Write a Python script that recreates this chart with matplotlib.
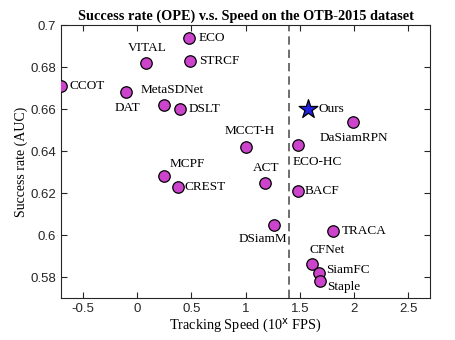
import matplotlib.pyplot as plt

# trackers: log10 speed (FPS) and AUC
names = ["ECO", "STRCF", "VITAL", "CCOT", "DAT", "MetaSDNet", "DSLT",
         "DaSiamRPN", "MCCT-H", "ECO-HC", "MCPF", "CREST", "ACT", "BACF",
         "DSiamM", "TRACA", "CFNet", "SiamFC", "Staple"]
speed = [0.48, 0.49, 0.08, -0.70, -0.10, 0.25, 0.40,
         1.99, 1.00, 1.48, 0.25, 0.38, 1.18, 1.48,
         1.26, 1.81, 1.61, 1.68, 1.69]
auc = [0.694, 0.683, 0.682, 0.671, 0.668, 0.662, 0.660,
       0.654, 0.642, 0.643, 0.628, 0.623, 0.625, 0.621,
       0.605, 0.602, 0.586, 0.582, 0.578]
ours_speed = 1.58
ours_auc = 0.660
realtime = 1.398  # log10(25 FPS)

# label offsets in pixels (dx, dy, ha)
offsets = {
    "ECO": (9, 0, "left"), "STRCF": (9, 0, "left"), "VITAL": (2, 15, "center"),
    "CCOT": (8, 0, "left"), "DAT": (1, -16, "center"), "MetaSDNet": (8, 15, "center"),
    "DSLT": (8, 0, "left"), "DaSiamRPN": (1, -16, "center"), "MCCT-H": (4, 16, "center"),
    "ECO-HC": (-5, -17, "left"), "MCPF": (5, 12, "left"), "CREST": (6, 0, "left"),
    "ACT": (1, 15, "center"), "BACF": (7, 0, "left"), "DSiamM": (13, -14, "right"),
    "TRACA": (8, 0, "left"), "CFNet": (-2, 14, "left"), "SiamFC": (7, 3, "left"),
    "Staple": (7, -6, "left"),
}

serif = ["Liberation Serif", "DejaVu Serif"]
plt.rcParams["font.family"] = ["Liberation Sans", "DejaVu Sans"]

fig = plt.figure(figsize=(4.56, 3.4), dpi=100)
ax = fig.add_axes([0.134, 0.1235, 0.809, 0.8025])

ax.axvline(realtime, color="#555555", ls=(0, (5, 3)), lw=1.2, zorder=1)
ax.scatter(speed, auc, s=68, c="#CC44CC", edgecolors="black", linewidths=0.9, zorder=3)
ax.scatter([ours_speed], [ours_auc], s=200, marker="*", c="#2020E0",
           edgecolors="black", linewidths=0.9, zorder=3)

for n, x, y in zip(names, speed, auc):
    dx, dy, ha = offsets[n]
    ax.annotate(n, (x, y), xytext=(dx, dy), textcoords="offset pixels",
                ha=ha, va="center", family=serif, fontsize=9.5)
ax.annotate("Ours", (ours_speed, ours_auc), xytext=(10, 0), textcoords="offset pixels",
            ha="left", va="center", family=serif, fontsize=9.5)

ax.set_xlim(-0.7, 2.7)
ax.set_ylim(0.57, 0.70)
ax.set_xticks([-0.5, 0, 0.5, 1, 1.5, 2, 2.5])
ax.set_xticklabels(["-0.5", "0", "0.5", "1", "1.5", "2", "2.5"])
ax.set_yticks([0.58, 0.6, 0.62, 0.64, 0.66, 0.68, 0.7])
ax.set_yticklabels(["0.58", "0.6", "0.62", "0.64", "0.66", "0.68", "0.7"])
ax.tick_params(direction="in", top=True, right=True, labelsize=9.5,
               colors="#262626", length=4, width=0.8)
for s in ax.spines.values():
    s.set_color("#262626")
    s.set_linewidth(0.8)

ax.set_xlabel(r"Tracking Speed (10$^{\mathrm{x}}$ FPS)", family=serif, fontsize=10.3, labelpad=1)
ax.set_ylabel("Success rate (AUC)", family=serif, fontsize=10, labelpad=2)
ax.set_title("Success rate (OPE) v.s. Speed on the OTB-2015 dataset",
             family=serif, fontsize=10.3, fontweight="bold", pad=4)

fig.savefig("out.png", dpi=100)
